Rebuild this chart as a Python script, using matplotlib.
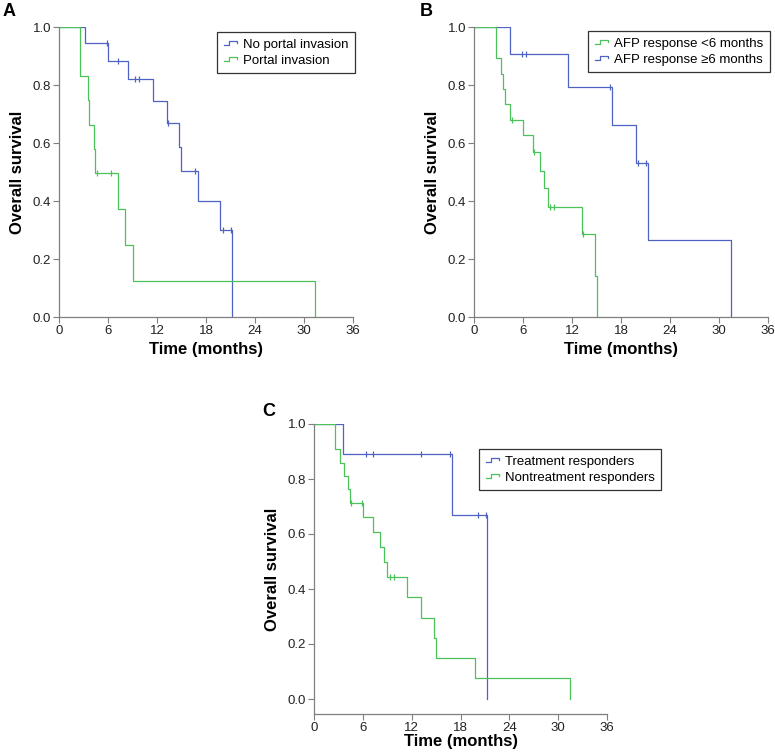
import numpy as np
import matplotlib
matplotlib.use("Agg")
import matplotlib.pyplot as plt
from matplotlib.lines import Line2D
from matplotlib.legend_handler import HandlerBase

plt.rcParams.update({"font.family": ["Liberation Sans", "DejaVu Sans"]})

W, H = 775, 754

BLUE = "#4f63c4"
GREEN = "#4cc35a"
AXIS_GRAY = "#7f7f7f"

# Panel A: portal invasion
a_none_t = [3.2, 6.0, 8.5, 11.5, 13.2, 14.75, 14.95, 17.0, 19.75, 21.2]
a_none_s = [0.944, 0.883, 0.820, 0.745, 0.669, 0.586, 0.502, 0.401, 0.299, 0.0]
a_none_c = [5.85, 7.2, 9.3, 9.8, 13.3, 16.65, 20.05, 21.0]

a_port_t = [2.6, 3.6, 3.7, 4.3, 4.4, 7.25, 8.1, 9.1, 31.4]
a_port_s = [0.830, 0.747, 0.663, 0.580, 0.498, 0.374, 0.247, 0.124, 0.0]
a_port_c = [4.6, 6.35]

# Panel B: AFP response
b_short_t = [2.65, 3.25, 3.55, 3.75, 4.45, 5.95, 7.2, 8.05, 8.55, 9.05, 13.25, 14.8, 15.05]
b_short_s = [0.894, 0.839, 0.786, 0.734, 0.681, 0.627, 0.568, 0.502, 0.444, 0.378, 0.286, 0.143, 0.0]
b_short_c = [4.7, 7.3, 9.3, 9.75, 13.35]

b_long_t = [4.4, 11.45, 16.95, 19.8, 21.25, 31.5]
b_long_s = [0.908, 0.794, 0.662, 0.530, 0.266, 0.0]
b_long_c = [5.9, 6.35, 16.7, 20.1, 21.1]

# Panel C: treatment response
c_resp_t = [3.6, 16.9, 21.25]
c_resp_s = [0.891, 0.668, 0.0]
c_resp_c = [6.4, 7.3, 13.2, 16.7, 20.15, 21.1]

c_non_t = [2.6, 3.2, 3.7, 4.2, 4.4, 6.05, 7.2, 8.1, 8.6, 9.0, 11.45, 13.2, 14.7, 15.05, 19.8, 31.5]
c_non_s = [0.908, 0.859, 0.811, 0.762, 0.714, 0.661, 0.606, 0.552, 0.497, 0.442,
           0.370, 0.293, 0.221, 0.148, 0.075, 0.0]
c_non_c = [4.6, 5.85, 9.3, 9.8]

x_ticks = [0, 6, 12, 18, 24, 30, 36]
y_ticks = [0.0, 0.2, 0.4, 0.6, 0.8, 1.0]


class StepHandler(HandlerBase):
    """Draws the small step icon used in the legends."""

    def create_artists(self, legend, orig_handle, xdescent, ydescent,
                       width, height, fontsize, trans):
        x0, y0 = -xdescent, -ydescent
        xs = [x0, x0 + 0.4 * width, x0 + 0.4 * width, x0 + width, x0 + width]
        ys = [y0 + 0.2 * height, y0 + 0.2 * height, y0 + 0.75 * height,
              y0 + 0.75 * height, y0 + 0.45 * height]
        line = Line2D(xs, ys, color=orig_handle.get_color(), lw=0.9, transform=trans)
        return [line]


def px_axes(fig, left, top, right, bottom):
    return fig.add_axes([left / W, 1 - bottom / H, (right - left) / W, (bottom - top) / H])


def km_curve(ax, times, surv, cens, color):
    t = np.concatenate([[0], times])
    s = np.concatenate([[1.0], surv])
    ax.step(t, s, where="post", color=color, lw=0.9)
    # censor marks sit on the curve
    idx = np.searchsorted(t, cens, side="right") - 1
    ax.plot(cens, s[idx], ls="none", marker="|", ms=4, mew=0.9, color=color)


def style_axes(ax, ymin=0.0, xlabelpad=4):
    ax.set_xlim(0, 36)
    ax.set_ylim(ymin, 1.0)
    ax.set_xticks(x_ticks)
    ax.set_yticks(y_ticks)
    ax.set_yticklabels([f"{v:.1f}" for v in y_ticks])
    for side in ["top", "right"]:
        ax.spines[side].set_visible(False)
    for side in ["left", "bottom"]:
        ax.spines[side].set_color(AXIS_GRAY)
        ax.spines[side].set_linewidth(0.9)
    ax.tick_params(direction="out", length=4, width=0.8, color=AXIS_GRAY,
                   labelsize=9.5, labelcolor="#222222", pad=1.5)
    ax.set_xlabel("Time (months)", fontsize=12, fontweight="bold", labelpad=xlabelpad)
    ax.set_ylabel("Overall survival", fontsize=12, fontweight="bold", labelpad=6)


def add_legend(fig, labels, colors, anchor, loc):
    handles = [Line2D([], [], color=c) for c in colors]
    leg = fig.legend(handles, labels, loc=loc, bbox_to_anchor=anchor,
                     bbox_transform=fig.transFigure, fontsize=9.5,
                     handler_map={Line2D: StepHandler()},
                     fancybox=False, framealpha=1, edgecolor="#333333",
                     handlelength=1.0, handleheight=0.6, handletextpad=0.45,
                     labelspacing=0.3, borderpad=0.5, borderaxespad=0)
    leg.get_frame().set_linewidth(0.9)
    return leg


fig = plt.figure(figsize=(W / 100, H / 100), dpi=100)

ax_a = px_axes(fig, 59, 27, 353, 317)
km_curve(ax_a, a_none_t, a_none_s, a_none_c, BLUE)
km_curve(ax_a, a_port_t, a_port_s, a_port_c, GREEN)
style_axes(ax_a)
add_legend(fig, ["No portal invasion", "Portal invasion"], [BLUE, GREEN],
           (355 / W, 1 - 32 / H), "upper right")

ax_b = px_axes(fig, 474, 27, 768, 317)
km_curve(ax_b, b_long_t, b_long_s, b_long_c, BLUE)
km_curve(ax_b, b_short_t, b_short_s, b_short_c, GREEN)
style_axes(ax_b)
add_legend(fig, ["AFP response <6 months", "AFP response \u22656 months"], [GREEN, BLUE],
           (770 / W, 1 - 31 / H), "upper right")

# panel C has its x axis dropped a little below zero
ax_c = px_axes(fig, 314, 424, 607, 714)
km_curve(ax_c, c_resp_t, c_resp_s, c_resp_c, BLUE)
km_curve(ax_c, c_non_t, c_non_s, c_non_c, GREEN)
style_axes(ax_c, ymin=-15 / 275, xlabelpad=0)
add_legend(fig, ["Treatment responders", "Nontreatment responders"], [BLUE, GREEN],
           (479 / W, 1 - 449 / H), "upper left")

for letter, x, y in [("A", 3, 11), ("B", 420, 11), ("C", 262, 412)]:
    fig.text(x / W, 1 - y / H, letter, fontsize=13, fontweight="bold", va="center", ha="left")

fig.savefig("out.png", dpi=100)
